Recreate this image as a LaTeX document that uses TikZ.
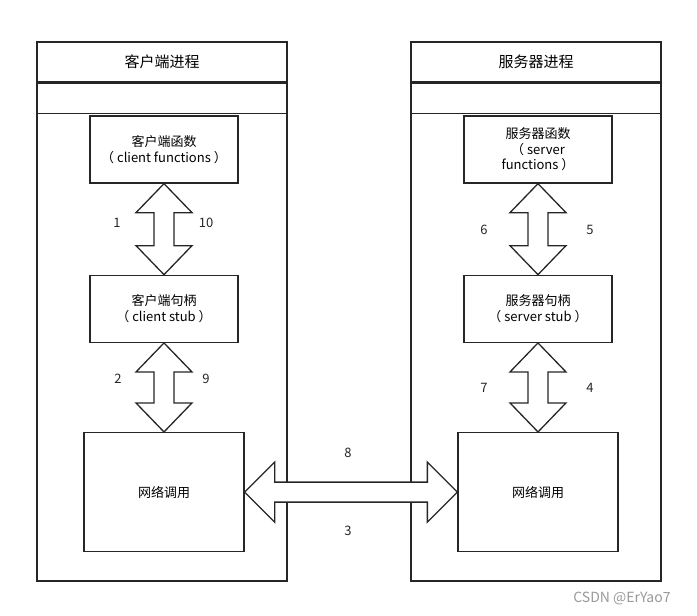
\documentclass[tikz,border=0pt]{standalone}
\usepackage{fontspec}
\setmainfont{Noto Sans CJK SC}
\usetikzlibrary{positioning,calc}
\tikzset{
    procbox/.style={draw=black!85, line width=1.3pt, minimum width=250pt, minimum height=539pt},
    rowbox/.style={draw=black!85, line width=1.3pt, minimum width=250pt, inner sep=0pt},
    funcbox/.style={draw=black!85, line width=1.3pt, align=center, font=\fontsize{13}{15.5}\selectfont,
        minimum width=148pt, minimum height=67pt, inner sep=0pt},
    netbox/.style={draw=black!85, line width=1.3pt, font=\fontsize{13}{15.5}\selectfont,
        minimum width=160pt, minimum height=119pt},
    bigarrow/.style={draw=black!85, line width=1.3pt, fill=white, line join=miter},
    numlabel/.style={font=\fontsize{13}{15}\selectfont, text=black!85}
}
% hollow double arrow between two stacked nodes
\newcommand{\vdarrow}[2]{%
  \draw[bigarrow] (#1.south) -- ++(28pt,-29pt) -- ++(-18pt,0pt)
    -- ($(#2.north)+(10pt,29pt)$) -- ++(18pt,0pt) -- (#2.north)
    -- ++(-28pt,29pt) -- ++(18pt,0pt)
    -- ($(#1.south)+(-10pt,-29pt)$) -- ++(-18pt,0pt) -- cycle;}
% hollow double arrow between two nodes side by side
\newcommand{\hdarrow}[2]{%
  \draw[bigarrow] (#1.east) -- ++(30pt,30pt) -- ++(0pt,-20pt)
    -- ($(#2.west)+(-30pt,10pt)$) -- ++(0pt,20pt) -- (#2.west)
    -- ++(-30pt,-30pt) -- ++(0pt,20pt)
    -- ($(#1.east)+(30pt,-10pt)$) -- ++(0pt,-20pt) -- cycle;}

\begin{document}
\begin{tikzpicture}[x=1pt, y=-1pt]
\useasboundingbox (0,0) rectangle (697,616);

% process frames
\node[procbox] (cproc) at (162,311.5) {};
\node[rowbox, minimum height=40pt, anchor=north, font=\fontsize{15}{17}\selectfont] (ctitle) at (cproc.north) {客户端进程};
\node[rowbox, minimum height=30pt, anchor=north] (crow) at (ctitle.south) {};
\node[procbox] (sproc) at (536,311.5) {};
\node[rowbox, minimum height=40pt, anchor=north, font=\fontsize{15}{17}\selectfont] (stitle) at (sproc.north) {服务器进程};
\node[rowbox, minimum height=30pt, anchor=north] (srow) at (stitle.south) {};

% client side
\node[funcbox] (cfunc) at (164,149.5) {客户端函数\\（ client functions ）};
\node[funcbox, below=91pt of cfunc] (cstub) {客户端句柄\\（ client stub ）};
\node[netbox, below=89pt of cstub] (cnet) {网络调用};

% server side
\node[funcbox] (sfunc) at (538,149.5) {服务器函数\\（ server\\functions ）};
\node[funcbox, below=91pt of sfunc] (sstub) {服务器句柄\\（ server stub ）};
\node[netbox, below=89pt of sstub] (snet) {网络调用};

% connectors
\vdarrow{cfunc}{cstub}
\vdarrow{cstub}{cnet}
\vdarrow{sfunc}{sstub}
\vdarrow{sstub}{snet}
\hdarrow{cnet}{snet}

% step numbers
\node[numlabel] (n1) at (117,223) {1};
\node[numlabel] (n10) at (206,223) {10};
\node[numlabel] (n2) at (118,379) {2};
\node[numlabel] (n9) at (206,379) {9};
\node[numlabel] (n6) at (484,230) {6};
\node[numlabel] (n5) at (590,230) {5};
\node[numlabel] (n7) at (484,388) {7};
\node[numlabel] (n4) at (590,388) {4};
\node[numlabel] (n8) at (348,453) {8};
\node[numlabel] (n3) at (348,531) {3};

\node[font=\fontsize{14}{16}\selectfont, text=black!40] (mark) at (622,598) {CSDN @ErYao7};
\end{tikzpicture}
\end{document}
